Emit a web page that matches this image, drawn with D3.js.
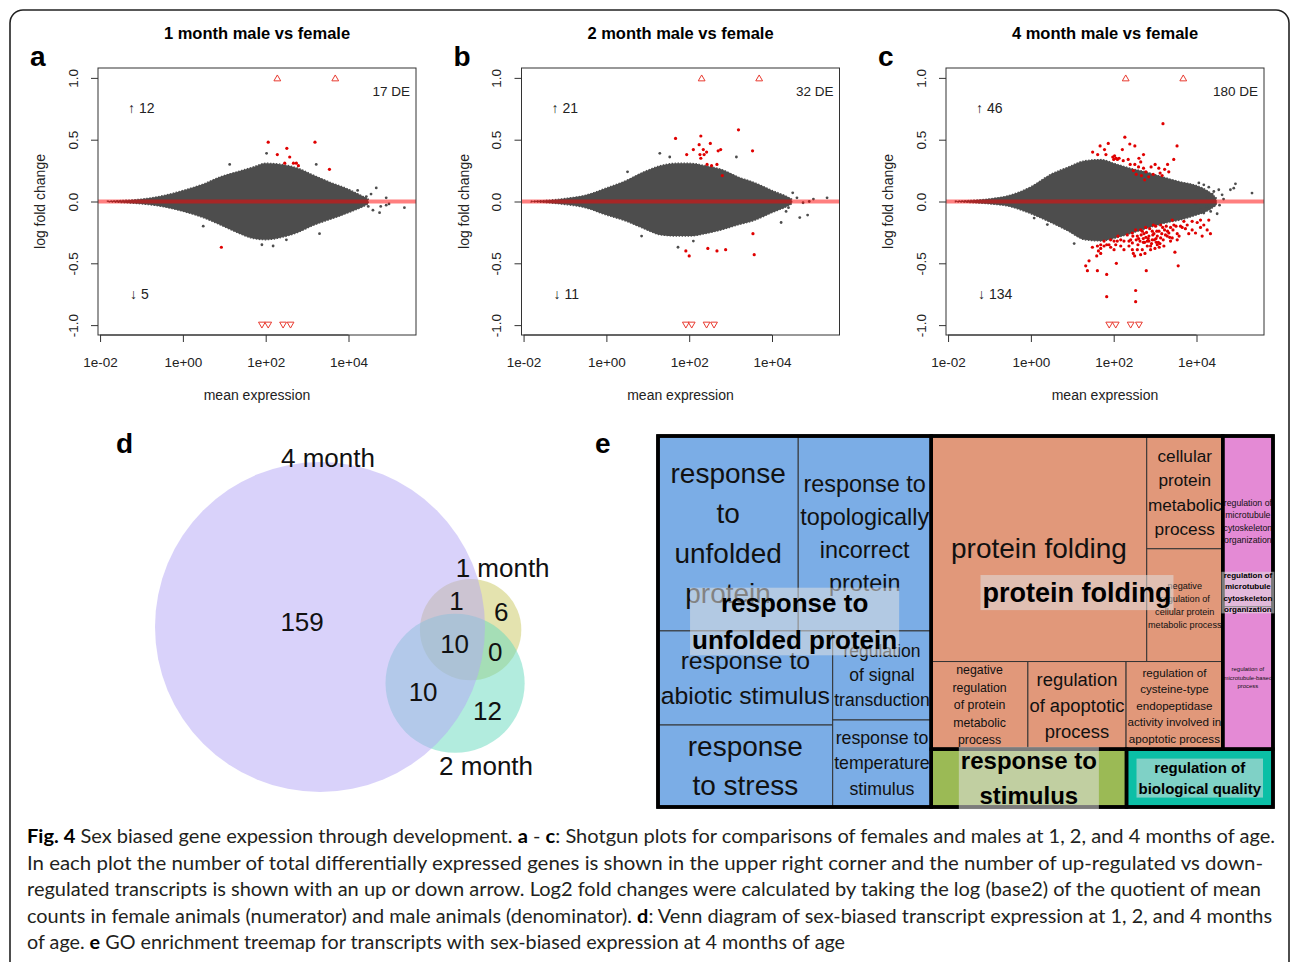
<!DOCTYPE html>
<html>
<head>
<meta charset="utf-8">
<script src="https://cdn.jsdelivr.net/npm/d3@7"></script>
<style>
  body { margin: 0; background: #fff; }
  svg text { font-family: "Liberation Sans", Arial, sans-serif; }
</style>
</head>
<body>
<div id="chart"></div>
<script>
// ---------- MA ("shotgun") plots a - c ----------
const panelTitles = ["1 month male vs female", "2 month male vs female", "4 month male vs female"];
const panelLetters = ["a", "b", "c"];
const deTotals = [17, 32, 180];
const upCounts = [12, 21, 46];
const downCounts = [5, 11, 134];
const xTicks = [1e-2, 1, 1e2, 1e4];
const yTicks = [-1, -0.5, 0, 0.5, 1];

// outline of the grey cloud of all transcripts (mean expression, upper / lower log fold change)
const cloudMean = [0.015, 0.03, 0.1, 0.3, 1, 3, 8, 20, 50, 100, 250, 600, 1500, 4000, 10000, 20000, 30000];
const cloudUp1m = [0.003, 0.008, 0.02, 0.045, 0.09, 0.14, 0.2, 0.24, 0.28, 0.31, 0.3, 0.27, 0.21, 0.15, 0.1, 0.05, 0.02];
const cloudLo1m = [-0.003, -0.008, -0.02, -0.04, -0.08, -0.13, -0.19, -0.25, -0.3, -0.31, -0.29, -0.25, -0.19, -0.14, -0.09, -0.05, -0.02];
const cloudUp2m = [0.003, 0.008, 0.025, 0.05, 0.11, 0.17, 0.24, 0.29, 0.31, 0.31, 0.29, 0.26, 0.2, 0.15, 0.09, 0.05, 0.02];
const cloudLo2m = [-0.003, -0.008, -0.025, -0.05, -0.11, -0.16, -0.22, -0.27, -0.28, -0.28, -0.26, -0.23, -0.19, -0.15, -0.09, -0.05, -0.02];
const cloudUp4m = [0.003, 0.008, 0.022, 0.05, 0.12, 0.22, 0.28, 0.33, 0.34, 0.31, 0.27, 0.24, 0.2, 0.16, 0.13, 0.08, 0.03];
const cloudLo4m = [-0.003, -0.008, -0.02, -0.04, -0.1, -0.17, -0.24, -0.31, -0.32, -0.3, -0.26, -0.22, -0.18, -0.15, -0.11, -0.07, -0.03];

// stray grey transcripts outside the cloud [mean, lfc]
const grey1m = [[46774, 0.11], [81283, 0.03], [81283, -0.03], [223872, -0.05], [38905, -0.07], [26915, 0.04], [16596, 0.09],
  [1660, 0.3], [13.5, 0.3], [151, -0.36], [81, -0.35], [316, -0.31], [1995, -0.26], [3.1, -0.2], [105, 0.39], [56234, -0.09],
  [30000, -0.04], [35000, 0.06], [60000, -0.04], [95000, -0.02]];
const grey2m = [[213796, 0.03], [79433, 0], [72444, -0.11], [46774, -0.13], [31623, 0.07], [16596, -0.17], [1380, 0.36],
  [19.5, 0.39], [33.9, 0.36], [3.24, 0.24], [126, -0.32], [53.7, -0.37], [7.08, -0.28], [21878, -0.08], [56234, -0.01],
  [40000, 0.03], [25000, -0.05], [100000, 0.02]];
const grey4m = [[11400, 0.15], [15000, 0.135], [19800, 0.116], [26200, 0.081], [34500, 0.095], [41500, 0.054], [65900, 0.095],
  [79400, 0.108], [87100, 0.143], [219000, 0.068], [12500, -0.066], [15000, -0.093], [28700, -0.013], [31500, -0.099],
  [18100, -0.04], [11.1, -0.34], [2.5, -0.187], [1.2, -0.134], [9460, -0.013], [18100, 0.028], [24000, 0.06],
  [22000, -0.08], [36000, -0.03], [45000, 0.02]];

// differentially expressed transcripts [mean, lfc]
const de1m = [[115, 0.48], [191, 0.38], [324, 0.43], [380, 0.36], [288, 0.31], [550, 0.31], [468, 0.31], [617, 0.29],
  [1549, 0.48], [3467, 0.26], [8.5, -0.37]];
const de2m = [[46.8, 0.51], [191, 0.53], [87, 0.38], [126, 0.42], [174, 0.46], [219, 0.42], [182, 0.38], [229, 0.38],
  [191, 0.35], [263, 0.4], [324, 0.47], [501, 0.41], [575, 0.42], [347, 0.29], [468, 0.3], [631, 0.21], [1549, 0.58],
  [3388, 0.41], [270, 0.3],
  [83, -0.4], [100, -0.44], [282, -0.38], [468, -0.4], [759, -0.39], [3467, -0.26], [3715, -0.43]];
const de4mUp = [[1550, 0.63], [186, 0.52], [74, 0.47], [47, 0.45], [245, 0.465], [324, 0.45], [3390, 0.45], [31, 0.4],
  [41, 0.38], [65, 0.38], [112, 0.35], [123, 0.34], [162, 0.42], [224, 0.34], [324, 0.3], [407, 0.35], [525, 0.38],
  [398, 0.28], [1000, 0.3], [2820, 0.34], [2140, 0.24], [1320, 0.23], [525, 0.27], [1230, 0.27], [1480, 0.21], [468, 0.21],
  [560, 0.175], [95, 0.36], [105, 0.37], [115, 0.35], [100, 0.34], [135, 0.35], [300, 0.25], [350, 0.22], [600, 0.24],
  [700, 0.2], [800, 0.28], [250, 0.3], [450, 0.32], [2000, 0.3], [1700, 0.26], [900, 0.22], [170, 0.33], [60, 0.42]];
const de4mDown = [[21.1, -0.52], [23.2, -0.56], [40.4, -0.56], [67.8, -0.59], [67.8, -0.77], [25.4, -0.48], [30.6, -0.37],
  [42.7, -0.4], [48.6, -0.38], [58.5, -0.36], [67.8, -0.35], [84.5, -0.37], [112, -0.35], [102, -0.39], [116, -0.5],
  [127, -0.28], [148, -0.36], [257, -0.31], [282, -0.335], [298, -0.42], [321, -0.44], [339, -0.72], [339, -0.81],
  [372, -0.28], [431, -0.32], [447, -0.43], [490, -0.24], [538, -0.26], [569, -0.42], [612, -0.56], [647, -0.32],
  [710, -0.28], [778, -0.36], [855, -0.31], [938, -0.26], [991, -0.38], [1070, -0.33], [1130, -0.28], [1240, -0.24],
  [1360, -0.295], [1570, -0.31], [1690, -0.23], [1860, -0.2], [2150, -0.255], [2360, -0.21], [2590, -0.15], [2840, -0.19],
  [3010, -0.41], [3420, -0.26], [3610, -0.52], [4510, -0.21], [4950, -0.16], [9460, -0.255], [15000, -0.19], [21700, -0.26],
  [12500, -0.21], [447, -0.23], [590, -0.21], [710, -0.32], [855, -0.24], [1310, -0.34], [1030, -0.2], [647, -0.36],
  [519, -0.3], [385, -0.35], [234, -0.36], [177, -0.32], [102, -0.32], [77.1, -0.35], [48.6, -0.42], [38.9, -0.44],
  [177, -0.39], [213, -0.27], [282, -0.255], [339, -0.23], [1960, -0.28], [1630, -0.36], [2360, -0.32], [2590, -0.295],
  [3420, -0.31], [4110, -0.2], [5960, -0.19], [7850, -0.23], [10400, -0.17], [13700, -0.28], [18100, -0.23], [19800, -0.15],
  [12500, -0.15], [7850, -0.16], [1360, -0.19], [904, -0.19], [1130, -0.35], [778, -0.39], [490, -0.39], [372, -0.39],
  [282, -0.39], [234, -0.32], [148, -0.31], [122, -0.32], [84.5, -0.31], [58.5, -0.32], [48.6, -0.35], [40.4, -0.36],
  [400, -0.3], [460, -0.27], [520, -0.33], [620, -0.25], [680, -0.3], [740, -0.22], [820, -0.34], [880, -0.27],
  [960, -0.31], [1100, -0.24], [1200, -0.33], [1450, -0.26], [1520, -0.21], [1780, -0.27], [2000, -0.24], [2250, -0.29],
  [2700, -0.23], [3200, -0.2], [3800, -0.28], [5400, -0.22], [6500, -0.26], [290, -0.28], [350, -0.31], [560, -0.33],
  [600, -0.29], [1050, -0.3], [1260, -0.37]];

// transcripts beyond the plotting range (drawn as open triangles at +/-1)
const capUp1m = [191, 4786], capDown1m = [81, 115, 263, 398];
const capUp2m = [200, 4898], capDown2m = [83, 115, 263, 398];
const capUp4m = [195, 4786], capDown4m = [78, 112, 257, 407];

// ---------- Venn diagram d ----------
const vennSetNames = ["4 month", "1 month", "2 month"];
const vennRegionMembers = [[0], [1], [2], [0, 1], [0, 2], [1, 2], [0, 1, 2]];
const vennRegionCounts = [159, 6, 12, 1, 10, 0, 10];
const vennColors = ["#b3a6f5", "#c9c75f", "#65d9bd"];

// ---------- GO treemap e ----------
const goGroupNames = ["response to\nunfolded protein", "protein folding",
  "regulation of\nmicrotubule\ncytoskeleton\norganization", "response to\nstimulus", "regulation of\nbiological quality"];
const goGroupColors = ["#7badE6", "#e1987a", "#e48ad5", "#9bba55", "#0bbfa6"];
const goTermNames = ["response\nto\nunfolded\nprotein", "response to\ntopologically\nincorrect\nprotein",
  "response to\nabiotic stimulus", "response\nto stress", "regulation\nof signal\ntransduction",
  "response to\ntemperature\nstimulus", "protein folding", "cellular\nprotein\nmetabolic\nprocess",
  "negative\nregulation of\ncellular protein\nmetabolic process", "negative\nregulation\nof protein\nmetabolic\nprocess",
  "regulation\nof apoptotic\nprocess", "regulation of\ncysteine-type\nendopeptidase\nactivity involved in\napoptotic process",
  "regulation of\nmicrotubule\ncytoskeleton\norganization", "regulation of\nmicrotubule-based\nprocess",
  "response to stimulus", "regulation of biological quality"];
const goTermGroup = [0, 0, 0, 0, 0, 0, 1, 1, 1, 1, 1, 1, 2, 2, 3, 4];
const goTermSize = [271, 257, 163, 142, 87, 85, 482, 85, 85, 84, 85.3, 84, 85, 71, 112, 84];

// ---------- caption ----------
const captionLines = [
  [["Fig. 4", 1], [" Sex biased gene expession through development. ", 0], ["a", 1], [" - ", 0], ["c", 1],
    [": Shotgun plots for comparisons of females and males at 1, 2, and 4 months of age.", 0]],
  [["In each plot the number of total differentially expressed genes is shown in the upper right corner and the number of up-regulated vs down-", 0]],
  [["regulated transcripts is shown with an up or down arrow. Log2 fold changes were calculated by taking the log (base2) of the quotient of mean", 0]],
  [["counts in female animals (numerator) and male animals (denominator). ", 0], ["d", 1],
    [": Venn diagram of sex-biased transcript expression at 1, 2, and 4 months", 0]],
  [["of age. ", 0], ["e", 1], [" GO enrichment treemap for transcripts with sex-biased expression at 4 months of age", 0]]
];
const captionWidths = [1248, 1236, 1234, 1245, 818];

// =====================================================================
const width = 1292, height = 962;
const svg = d3.select("#chart").append("svg").attr("width", width).attr("height", height);

// rounded frame around the whole figure
svg.append("rect").attr("x", 10).attr("y", 10).attr("width", 1279).attr("height", 1000).attr("rx", 13)
  .attr("fill", "none").attr("stroke", "#222").attr("stroke-width", 1.6);

const boxLefts = [98, 521.5, 946], boxW = 318, boxTop = 68, boxBottom = 335;
const grey = "#4d4d4d", red = "#e00000";

const fmtPow = d => {
  const e = Math.round(Math.log10(d));
  return "1e" + (e < 0 ? "-" : "+") + String(Math.abs(e)).padStart(2, "0");
};

function drawMA(i, cloudUp, cloudLo, greyPts, dePts, capUp, capDown) {
  const left = boxLefts[i], right = left + boxW;
  const x = d3.scaleLog().domain([Math.pow(10, -2.05), Math.pow(10, 5.63)]).range([left, right]);
  const y = d3.scaleLinear().domain([-1.08, 1.08]).range([boxBottom, boxTop]);
  const g = svg.append("g");

  const cloud = cloudMean.map((m, j) => ({ m, up: cloudUp[j], lo: cloudLo[j] }));
  g.append("path").datum(cloud)
    .attr("d", d3.area().x(d => x(d.m)).y0(d => y(d.lo)).y1(d => y(d.up)).curve(d3.curveMonotoneX))
    .attr("fill", grey).attr("stroke", grey).attr("stroke-width", 1.2).attr("stroke-dasharray", "1.5 1.5");

  g.selectAll(".grey").data(greyPts).join("circle")
    .attr("cx", d => x(d[0])).attr("cy", d => y(d[1])).attr("r", 1.4).attr("fill", grey);

  g.selectAll(".de").data(dePts).join("circle")
    .attr("cx", d => x(d[0])).attr("cy", d => y(d[1])).attr("r", 1.6).attr("fill", red);

  g.append("line").attr("x1", left).attr("x2", right).attr("y1", y(0)).attr("y2", y(0))
    .attr("stroke", "rgba(255,0,0,0.5)").attr("stroke-width", 4);

  const tri = d3.symbol().type(d3.symbolTriangle).size(20);
  g.selectAll(".capUp").data(capUp).join("path").attr("d", tri)
    .attr("transform", d => `translate(${x(d)},${y(1) + 1})`)
    .attr("fill", "#fff").attr("stroke", "#e83a30").attr("stroke-width", 1);
  g.selectAll(".capDown").data(capDown).join("path").attr("d", tri)
    .attr("transform", d => `translate(${x(d)},${y(-1) - 1}) rotate(180)`)
    .attr("fill", "#fff").attr("stroke", "#e83a30").attr("stroke-width", 1);

  g.append("rect").attr("x", left).attr("y", boxTop).attr("width", boxW).attr("height", boxBottom - boxTop)
    .attr("fill", "none").attr("stroke", "#333").attr("stroke-width", 1);

  const xAxis = g.append("g").attr("transform", `translate(0,${boxBottom})`)
    .call(d3.axisBottom(x).tickValues(xTicks).tickFormat(fmtPow).tickSize(7).tickPadding(15));
  const yAxis = g.append("g").attr("transform", `translate(${left},0)`)
    .call(d3.axisLeft(y).tickValues(yTicks).tickFormat(d => d.toFixed(1)).tickSize(7));
  [xAxis, yAxis].forEach(a => {
    a.select(".domain").remove();
    a.selectAll("line").attr("stroke", "#333");
    a.selectAll("text").attr("font-size", 13.5).attr("fill", "#222")
      .attr("font-family", '"Liberation Sans", Arial, sans-serif');
  });
  yAxis.selectAll("text").attr("x", null).attr("dy", null)
    .attr("transform", "translate(-25,0) rotate(-90)")
    .attr("text-anchor", "middle").attr("dominant-baseline", "central");

  // line from the first to the last x tick (R style)
  g.append("line").attr("x1", x(xTicks[0])).attr("x2", x(xTicks[xTicks.length - 1]))
    .attr("y1", boxBottom).attr("y2", boxBottom).attr("stroke", "#333");

  const cx = (left + right) / 2;
  g.append("text").attr("x", cx).attr("y", 39).attr("text-anchor", "middle")
    .attr("font-weight", "bold").attr("font-size", 16.5).text(panelTitles[i]);
  g.append("text").attr("x", left - 68).attr("y", 66)
    .attr("font-weight", "bold").attr("font-size", 28).text(panelLetters[i]);
  g.append("text").attr("x", cx).attr("y", 400).attr("text-anchor", "middle")
    .attr("font-size", 14).attr("fill", "#222").text("mean expression");
  g.append("text").attr("transform", `translate(${left - 58},${y(0)}) rotate(-90)`)
    .attr("text-anchor", "middle").attr("dominant-baseline", "central")
    .attr("font-size", 14).attr("fill", "#222").text("log fold change");
  g.append("text").attr("x", right - 6).attr("y", 96).attr("text-anchor", "end")
    .attr("font-size", 13.5).attr("fill", "#222").text(deTotals[i] + " DE");
  g.append("text").attr("x", left + 30).attr("y", 113)
    .attr("font-size", 14).attr("fill", "#222").text("\u2191 " + upCounts[i]);
  g.append("text").attr("x", left + 32).attr("y", 299)
    .attr("font-size", 14).attr("fill", "#222").text("\u2193 " + downCounts[i]);
}

drawMA(0, cloudUp1m, cloudLo1m, grey1m, de1m, capUp1m, capDown1m);
drawMA(1, cloudUp2m, cloudLo2m, grey2m, de2m, capUp2m, capDown2m);
drawMA(2, cloudUp4m, cloudLo4m, grey4m, de4mUp.concat(de4mDown), capUp4m, capDown4m);

// ---------- Venn ----------
const setSizes = vennSetNames.map((_, s) =>
  d3.sum(vennRegionMembers.map((m, k) => m.includes(s) ? vennRegionCounts[k] : 0)));
const pairSize = (a, b) => d3.sum(vennRegionMembers.map((m, k) => m.includes(a) && m.includes(b) ? vennRegionCounts[k] : 0));
const rScale = d3.scaleSqrt().domain([0, d3.max(setSizes)]).range([0, 165]);
const unitArea = Math.PI * rScale(1) ** 2;

function overlapArea(r1, r2, d) {
  if (d >= r1 + r2) return 0;
  if (d <= Math.abs(r1 - r2)) return Math.PI * Math.min(r1, r2) ** 2;
  const a1 = Math.acos((d * d + r1 * r1 - r2 * r2) / (2 * d * r1));
  const a2 = Math.acos((d * d + r2 * r2 - r1 * r1) / (2 * d * r2));
  return r1 * r1 * a1 + r2 * r2 * a2 - 0.5 * Math.sqrt((-d + r1 + r2) * (d + r1 - r2) * (d - r1 + r2) * (d + r1 + r2));
}
function distanceFor(r1, r2, area) {
  let lo = Math.abs(r1 - r2), hi = r1 + r2;
  for (let k = 0; k < 60; k++) {
    const mid = (lo + hi) / 2;
    if (overlapArea(r1, r2, mid) > area) lo = mid; else hi = mid;
  }
  return (lo + hi) / 2;
}
const radii = setSizes.map(s => rScale(s));
const d01 = distanceFor(radii[0], radii[1], pairSize(0, 1) * unitArea);
const d02 = distanceFor(radii[0], radii[2], pairSize(0, 2) * unitArea);
const d12 = distanceFor(radii[1], radii[2], pairSize(1, 2) * unitArea);
const rot = 1 * Math.PI / 180;
const theta = Math.acos((d01 * d01 + d02 * d02 - d12 * d12) / (2 * d01 * d02));
const c0 = [320, 627];
const centers = [c0,
  [c0[0] + d01 * Math.cos(rot), c0[1] + d01 * Math.sin(rot)],
  [c0[0] + d02 * Math.cos(rot + theta), c0[1] + d02 * Math.sin(rot + theta)]];

const venn = svg.append("g");
[1, 2, 0].forEach(s => {
  venn.append("circle").attr("cx", centers[s][0]).attr("cy", centers[s][1]).attr("r", radii[s])
    .attr("fill", vennColors[s]).attr("fill-opacity", 0.5);
});

// region label positions: centroid of each region on a pixel grid
const inside = (s, px, py) => (px - centers[s][0]) ** 2 + (py - centers[s][1]) ** 2 <= radii[s] ** 2;
const acc = vennRegionMembers.map(() => ({ x: 0, y: 0, n: 0 }));
for (let px = c0[0] - radii[0]; px <= 560; px += 1.5) {
  for (let py = c0[1] - radii[0]; py <= c0[1] + radii[0]; py += 1.5) {
    const mem = [0, 1, 2].filter(s => inside(s, px, py));
    if (!mem.length) continue;
    const k = vennRegionMembers.findIndex(m => m.length === mem.length && m.every(v => mem.includes(v)));
    acc[k].x += px; acc[k].y += py; acc[k].n++;
  }
}
acc.forEach((a, k) => {
  venn.append("text").attr("x", a.x / a.n).attr("y", a.y / a.n)
    .attr("text-anchor", "middle").attr("dominant-baseline", "central")
    .attr("font-size", 26).attr("fill", "#111").text(vennRegionCounts[k]);
});
venn.append("text").attr("x", centers[0][0] + 8).attr("y", centers[0][1] - radii[0] + 5)
  .attr("text-anchor", "middle").attr("font-size", 26).attr("fill", "#111").text(vennSetNames[0]);
venn.append("text").attr("x", centers[1][0] + 32).attr("y", centers[1][1] - radii[1] - 2)
  .attr("text-anchor", "middle").attr("font-size", 26).attr("fill", "#111").text(vennSetNames[1]);
venn.append("text").attr("x", centers[2][0] + 31).attr("y", centers[2][1] + radii[2] + 22)
  .attr("text-anchor", "middle").attr("font-size", 26).attr("fill", "#111").text(vennSetNames[2]);
svg.append("text").attr("x", 116).attr("y", 453).attr("font-weight", "bold").attr("font-size", 28).text("d");
svg.append("text").attr("x", 595).attr("y", 453).attr("font-weight", "bold").attr("font-size", 28).text("e");

// ---------- treemap (ordered pivot-by-size layout, as in REVIGO) ----------
function layoutPivot(nodes, x0, y0, x1, y1) {
  if (!nodes.length) return;
  if (nodes.length === 1) { Object.assign(nodes[0], { x0, y0, x1, y1 }); return; }
  const total = d3.sum(nodes, d => d.value);
  const w = x1 - x0, h = y1 - y0, wide = w >= h;
  const p = d3.maxIndex(nodes, d => d.value);
  const L1 = nodes.slice(0, p), P = nodes[p], rest = nodes.slice(p + 1);
  const vL1 = d3.sum(L1, d => d.value);
  let best = 0, bestAR = Infinity;
  for (let j = 0; j <= rest.length; j++) {
    const v2 = d3.sum(rest.slice(0, j), d => d.value);
    const strip = (P.value + v2) / total * (wide ? w : h);
    const along = P.value / (P.value + v2) * (wide ? h : w);
    const ar = Math.max(strip / along, along / strip);
    if (ar < bestAR) { bestAR = ar; best = j; }
  }
  const R2 = rest.slice(0, best), R3 = rest.slice(best);
  const vR2 = d3.sum(R2, d => d.value);
  if (wide) {
    const wL1 = vL1 / total * w, wS = (P.value + vR2) / total * w;
    const hP = P.value / (P.value + vR2) * h;
    layoutPivot(L1, x0, y0, x0 + wL1, y1);
    Object.assign(P, { x0: x0 + wL1, y0, x1: x0 + wL1 + wS, y1: y0 + hP });
    layoutPivot(R2, x0 + wL1, y0 + hP, x0 + wL1 + wS, y1);
    layoutPivot(R3, x0 + wL1 + wS, y0, x1, y1);
  } else {
    const hL1 = vL1 / total * h, hS = (P.value + vR2) / total * h;
    const wP = P.value / (P.value + vR2) * w;
    layoutPivot(L1, x0, y0, x1, y0 + hL1);
    Object.assign(P, { x0, y0: y0 + hL1, x1: x0 + wP, y1: y0 + hL1 + hS });
    layoutPivot(R2, x0 + wP, y0 + hL1, x1, y0 + hL1 + hS);
    layoutPivot(R3, x0, y0 + hL1 + hS, x1, y1);
  }
}
const pivotBySize = (parent, x0, y0, x1, y1) => layoutPivot(parent.children, x0, y0, x1, y1);

const tmX = 658, tmY = 436, tmW = 615, tmH = 371;
const treeData = {
  name: "root",
  children: goGroupNames.map((name, gi) => ({
    name, gi,
    children: goTermNames.map((t, ti) => ({ name: t, gi: goTermGroup[ti], value: goTermSize[ti] }))
      .filter(d => d.gi === gi)
  }))
};
const root = d3.hierarchy(treeData).sum(d => d.value || 0);
d3.treemap().size([tmW, tmH]).tile(pivotBySize)(root);

const tm = svg.append("g").attr("transform", `translate(${tmX},${tmY})`);
const ctx = document.createElement("canvas").getContext("2d");
const textW = (s, size, bold) => {
  ctx.font = `${bold ? "bold " : ""}${size}px "Liberation Sans", Arial`;
  return ctx.measureText(s).width;
};

const leaves = root.leaves();
tm.selectAll(".cell").data(leaves).join("rect")
  .attr("x", d => d.x0).attr("y", d => d.y0)
  .attr("width", d => d.x1 - d.x0).attr("height", d => d.y1 - d.y0)
  .attr("fill", d => goGroupColors[d.data.gi]).attr("stroke", "#333").attr("stroke-width", 1);

// leaf labels, sized to fill their cell
leaves.filter(d => d.parent.children.length > 1).forEach(d => {
  const lines = d.data.name.split("\n");
  const w = d.x1 - d.x0, h = d.y1 - d.y0;
  const maxW = d3.max(lines, l => textW(l, 10)) / 10;
  const fs = Math.min(w * 0.97 / maxW, h / (lines.length * 1.42), 28);
  const cx = (d.x0 + d.x1) / 2, cy = (d.y0 + d.y1) / 2;
  lines.forEach((l, k) => {
    tm.append("text").attr("x", cx).attr("y", cy + (k - (lines.length - 1) / 2) * fs * 1.42)
      .attr("text-anchor", "middle").attr("dominant-baseline", "central")
      .attr("font-size", fs).attr("fill", "#111").text(l);
  });
});

// group borders
const groups = root.children;
tm.selectAll(".grp").data(groups).join("rect")
  .attr("x", d => d.x0).attr("y", d => d.y0)
  .attr("width", d => d.x1 - d.x0).attr("height", d => d.y1 - d.y0)
  .attr("fill", "none").attr("stroke", "#000").attr("stroke-width", 3.5);
tm.append("rect").attr("x", 0).attr("y", 0).attr("width", tmW).attr("height", tmH)
  .attr("fill", "none").attr("stroke", "#000").attr("stroke-width", 3.5);

// group labels on translucent boxes
const groupFont = [26, 27, 8, 24, 15];
groups.forEach((d, gi) => {
  const lines = d.data.name.split("\n");
  const fs = groupFont[gi];
  const bw = d3.max(lines, l => textW(l, fs, true)) + 4;
  const bh = lines.length * fs * 1.3;
  const cx = (d.x0 + d.x1) / 2, cy = (d.y0 + d.y1) / 2;
  tm.append("rect").attr("x", cx - bw / 2).attr("y", cy - bh / 2).attr("width", bw).attr("height", bh)
    .attr("fill", "#e0e0e0").attr("fill-opacity", 0.55);
  lines.forEach((l, k) => {
    tm.append("text").attr("x", cx).attr("y", cy + (k - (lines.length - 1) / 2) * fs * 1.45)
      .attr("text-anchor", "middle").attr("dominant-baseline", "central")
      .attr("font-size", fs).attr("font-weight", "bold").attr("fill", "#000").text(l);
  });
});

// ---------- caption ----------
captionLines.forEach((segs, k) => {
  const t = svg.append("text").attr("x", 27).attr("y", 843 + k * 26.5)
    .attr("font-size", 19.5).attr("fill", "#231f20")
    .attr("textLength", captionWidths[k]).attr("lengthAdjust", "spacingAndGlyphs")
    .style("font-family", "Lato, 'Open Sans', sans-serif");
  segs.forEach(([s, b]) => {
    t.append("tspan").attr("font-weight", b ? "bold" : "normal").attr("fill", b ? "#000" : "#231f20").text(s);
  });
});
</script>
</body>
</html>
